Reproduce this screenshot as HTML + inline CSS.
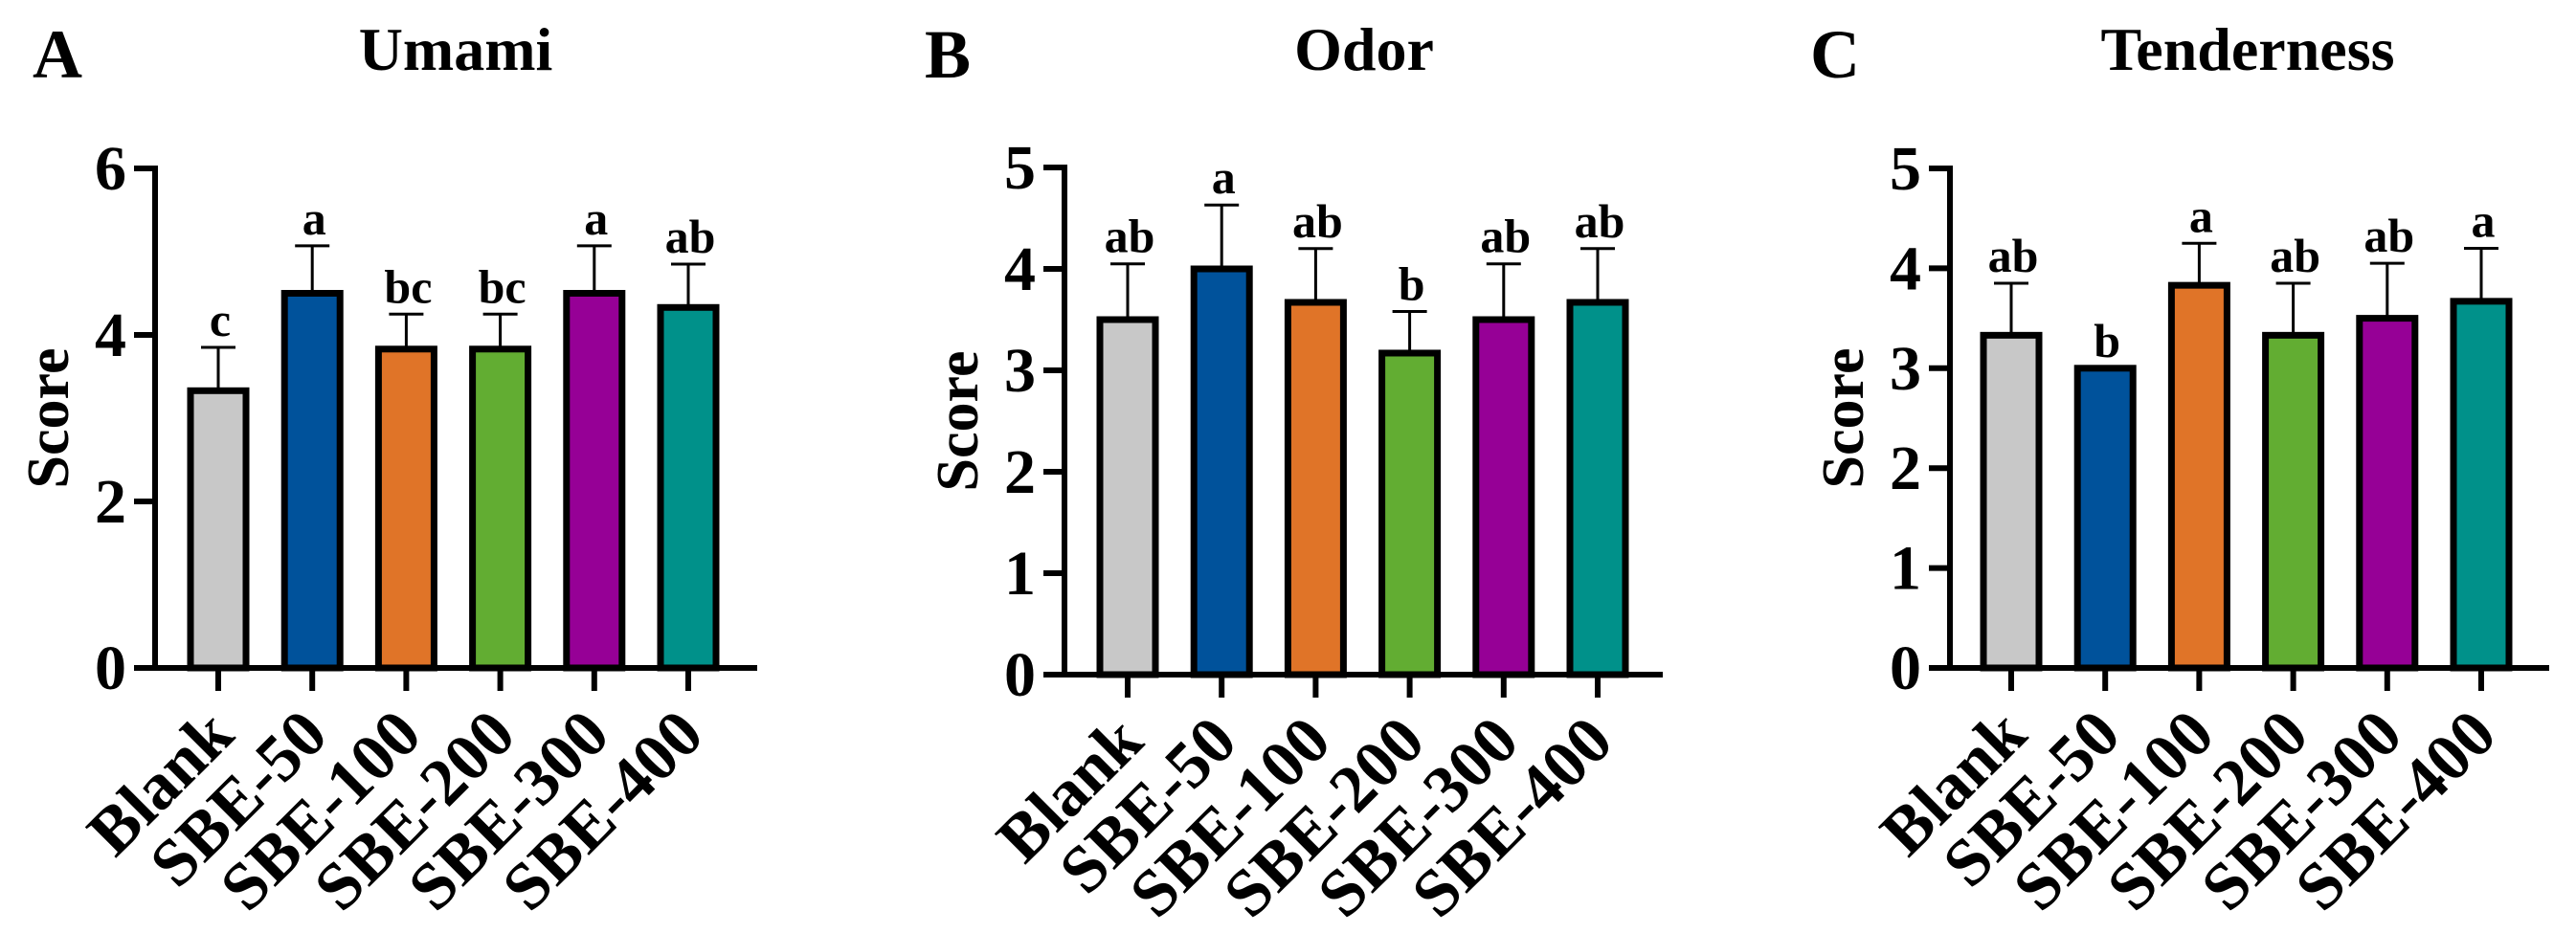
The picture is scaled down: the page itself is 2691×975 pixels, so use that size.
<!DOCTYPE html>
<html><head><meta charset="utf-8"><style>
body{margin:0;background:#fff;}
svg{display:block;font-family:"Liberation Serif",serif;font-weight:bold;}
</style></head><body>
<svg id="fig" width="2691" height="975" viewBox="0 0 2691 975" xmlns="http://www.w3.org/2000/svg"></svg>
<script>
const categories = ["Blank","SBE-50","SBE-100","SBE-200","SBE-300","SBE-400"];
const colors = ["#c8c8c8","#00529b","#e07428","#62ad32","#960096","#00918a"];
const umamiMeans = [3.33,4.5,3.83,3.83,4.5,4.33];
const umamiErr = [0.52,0.57,0.42,0.42,0.57,0.52];
const umamiLetters = ["c","a","bc","bc","a","ab"];
const umamiTicks = [0,2,4,6];
const odorMeans = [3.5,4.0,3.67,3.17,3.5,3.67];
const odorErr = [0.55,0.63,0.53,0.41,0.55,0.53];
const odorLetters = ["ab","a","ab","b","ab","ab"];
const odorTicks = [0,1,2,3,4,5];
const tendMeans = [3.33,3.0,3.83,3.33,3.5,3.67];
const tendErr = [0.52,0,0.42,0.52,0.55,0.53];
const tendLetters = ["ab","b","a","ab","ab","a"];
const tendTicks = [0,1,2,3,4,5];

const NS="http://www.w3.org/2000/svg";
const svg=document.getElementById('fig');
function mk(tag,attrs,parent,text){const e=document.createElementNS(NS,tag);for(const k in attrs)e.setAttribute(k,attrs[k]);if(text!==undefined)e.textContent=text;(parent||svg).appendChild(e);return e;}

function panel(cfg,means,errs,letters,ticks){
  const g=mk('g',{});
  
  
  const ymax=ticks[ticks.length-1];
  const y=v=>cfg.y0-(cfg.y0-cfg.yTop)*v/ymax;
  const x=i=>cfg.ax+cfg.off+i*cfg.step;
  const pl=mk('text',{x:cfg.lx,y:81,'font-size':72},g,cfg.letter);
  
  
  const t=mk('text',{x:cfg.tx,y:73,'font-size':64,'text-anchor':'middle'},g,cfg.title);
  
  
  const yt=mk('text',{x:0,y:0,'font-size':62,'text-anchor':'middle',transform:`translate(${cfg.ax-91},${(cfg.y0+cfg.yTop)/2}) rotate(-90)`},g,'Score');
  
  
  means.forEach((m,i)=>{
    const cx=x(i),w=58;
    const top=y(m);
    if(errs[i]>0){
      const ey=y(m+errs[i]);
      const el=mk('line',{x1:cx,x2:cx,y1:top,y2:ey,stroke:'#000','stroke-width':3},g);
      
      
      const cap=mk('line',{x1:cx-18,x2:cx+18,y1:ey,y2:ey,stroke:'#000','stroke-width':3},g);
      
      
    }
    const r=mk('rect',{x:cx-w/2,y:top,width:w,height:cfg.y0-top,fill:colors[i],stroke:'#000','stroke-width':7},g);
    
    
    const lt=mk('text',{x:cx+2,y:y(m+errs[i])-12,'font-size':50,'text-anchor':'middle'},g,letters[i]);
    
    
    const tk=mk('line',{x1:cx,x2:cx,y1:cfg.y0,y2:cfg.y0+24,stroke:'#000','stroke-width':6},g);
    
    
    const xl=mk('text',{x:0,y:0,'font-size':70,'text-anchor':'end',transform:`translate(${cx+19},${cfg.y0+73}) rotate(-45)`},g,categories[i]);
    
    
  });
  const ya=mk('line',{x1:cfg.ax,x2:cfg.ax,y1:cfg.yTop-3,y2:cfg.y0+3,stroke:'#000','stroke-width':6},g);
  
  
  const xa=mk('line',{x1:cfg.ax-22,x2:cfg.xEnd,y1:cfg.y0,y2:cfg.y0,stroke:'#000','stroke-width':6},g);
  
  
  ticks.forEach(v=>{
    const ty=y(v);
    const tl=mk('line',{x1:cfg.ax-22,x2:cfg.ax,y1:ty,y2:ty,stroke:'#000','stroke-width':6},g);
    
    
    const lb=mk('text',{x:cfg.ax-30,y:ty+22,'font-size':66,'text-anchor':'end'},g,String(v));
    
    
  });
}
panel({name:'umami',letter:'A',title:'Umami',lx:34,tx:476,ax:162,off:66,step:98.2,y0:698,yTop:176,xEnd:791},umamiMeans,umamiErr,umamiLetters,umamiTicks);
panel({name:'odor',letter:'B',title:'Odor',lx:966,tx:1425,ax:1112,off:66,step:98.2,y0:705,yTop:175,xEnd:1737},odorMeans,odorErr,odorLetters,odorTicks);
panel({name:'tenderness',letter:'C',title:'Tenderness',lx:1891,tx:2348,ax:2037,off:64,step:98.2,y0:698,yTop:176,xEnd:2663},tendMeans,tendErr,tendLetters,tendTicks);
</script>
</body></html>
